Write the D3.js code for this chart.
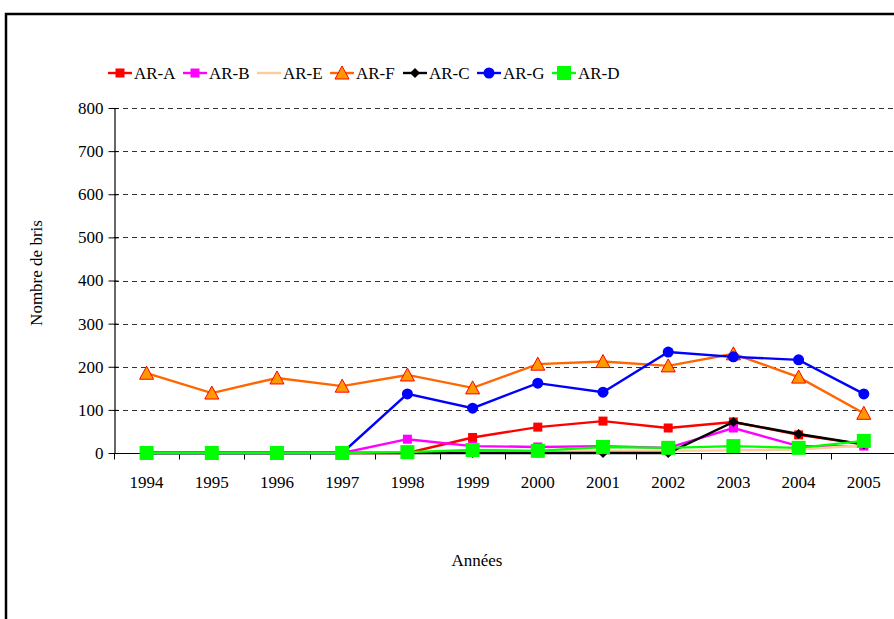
<!DOCTYPE html>
<html>
<head>
<meta charset="utf-8">
<script src="https://cdn.jsdelivr.net/npm/d3@7"></script>
<style>
  body { margin: 0; background: #fff; }
  svg { display: block; }
  svg text { font-family: 'Liberation Serif', 'Times New Roman', Times, serif; }
</style>
</head>
<body>
<svg id="chart" width="894" height="619"></svg>
<script>
const years = ["1994", "1995", "1996", "1997", "1998", "1999", "2000", "2001", "2002", "2003", "2004", "2005"];
const yTicks = [0, 100, 200, 300, 400, 500, 600, 700, 800];

const arA = [0, 0, 0, 0, 0, 36, 60, 74, 58, 72, 42, 20];
const arB = [0, 0, 0, 0, 32, 16, 14, 16, 12, 58, 16, 16];
const arE = [0, 0, 0, 0, 0, 2, 3, 4, 5, 6, 8, 18];
const arF = [185, 139, 174, 155, 181, 151, 206, 212, 202, 230, 176, 92];
const arC = [0, 0, 0, 0, 0, 0, 0, 0, 0, 72, 44, 20];
const arG = [0, 0, 0, 0, 137, 104, 162, 141, 234, 223, 216, 137];
const arD = [0, 0, 0, 0, 2, 7, 5, 14, 12, 16, 12, 28];

// series in Excel order (drawing and legend)
const series = [
  { name: "AR-A", values: arA, line: "#ff0000", marker: "square", size: 9, fill: "#ff0000", stroke: "#ff0000" },
  { name: "AR-B", values: arB, line: "#ff00ff", marker: "square", size: 9, fill: "#ff00ff", stroke: "#ff00ff" },
  { name: "AR-E", values: arE, line: "#ffcc99", marker: null },
  { name: "AR-F", values: arF, line: "#ff6600", marker: "triangle", size: 12, fill: "#ff9900", stroke: "#ff0000" },
  { name: "AR-C", values: arC, line: "#000000", marker: "diamond", size: 10, fill: "#000000", stroke: "#000000" },
  { name: "AR-G", values: arG, line: "#0000ff", marker: "circle", size: 11, fill: "#0000ff", stroke: "#0000ff" },
  { name: "AR-D", values: arD, line: "#00ff00", marker: "square", size: 14, fill: "#00ff00", stroke: "#00ff00" }
];

const svg = d3.select("#chart");
const plotLeft = 114, plotTop = 108, plotBottom = 453;
const fs = 17;

const x = d3.scaleBand().domain(years).range([plotLeft, plotLeft + 12 * 65.2]).padding(0);
const y = d3.scaleLinear().domain([0, 800]).range([plotBottom, plotTop]);

// outer frame
svg.append("rect")
  .attr("x", 6).attr("y", 14)
  .attr("width", 1000).attr("height", 1000)
  .attr("fill", "none").attr("stroke", "#000").attr("stroke-width", 2.5);

// dashed gridlines
svg.append("g")
  .selectAll("line")
  .data(yTicks.filter(d => d > 0))
  .join("line")
  .attr("x1", plotLeft).attr("x2", 894)
  .attr("y1", d => Math.round(y(d)) + 0.5).attr("y2", d => Math.round(y(d)) + 0.5)
  .attr("stroke", "#333").attr("stroke-width", 1)
  .attr("stroke-dasharray", "5,4");

// y axis (cross tick marks)
const yAxis = svg.append("g")
  .attr("transform", `translate(${plotLeft + 0.5},0)`)
  .call(d3.axisLeft(y).tickValues(yTicks).tickSize(5).tickSizeOuter(0));
yAxis.attr("font-family", null);
yAxis.select(".domain").attr("stroke", "#000").attr("stroke-width", 1.2);
yAxis.selectAll(".tick line").attr("stroke", "#000").attr("x1", 4).attr("x2", -6);
yAxis.selectAll("text")
  .attr("font-size", fs).attr("fill", "#000")
  .attr("x", -11);

// x axis: labels centered in bands, ticks at band boundaries
const xAxis = svg.append("g")
  .attr("transform", `translate(0,${plotBottom + 0.5})`)
  .call(d3.axisBottom(x).tickSize(0).tickSizeOuter(0));
xAxis.attr("font-family", null);
xAxis.select(".domain").attr("stroke", "#000").attr("stroke-width", 1.2)
  .attr("d", `M${plotLeft},0H894`);
xAxis.selectAll("text")
  .attr("font-size", fs).attr("fill", "#000")
  .attr("y", 22);
xAxis.selectAll(".bound")
  .data(years)
  .join("line")
  .attr("class", "bound")
  .attr("x1", d => Math.round(x(d)) + 0.5).attr("x2", d => Math.round(x(d)) + 0.5)
  .attr("y1", 0).attr("y2", 6)
  .attr("stroke", "#000");

// axis titles
svg.append("text")
  .attr("transform", "translate(42,273) rotate(-90)")
  .attr("text-anchor", "middle")
  .attr("font-size", fs)
  .text("Nombre de bris");
svg.append("text")
  .attr("x", 477).attr("y", 566)
  .attr("text-anchor", "middle")
  .attr("font-size", fs)
  .text("Années");

const cx = d => x(d) + x.bandwidth() / 2;

function drawMarker(g, s, px, py) {
  const h = s.size / 2;
  if (s.marker === "square") {
    g.append("rect")
      .attr("x", px - h).attr("y", py - h)
      .attr("width", s.size).attr("height", s.size)
      .attr("fill", s.fill);
  } else if (s.marker === "circle") {
    g.append("circle")
      .attr("cx", px).attr("cy", py).attr("r", h)
      .attr("fill", s.fill);
  } else if (s.marker === "diamond") {
    g.append("path")
      .attr("d", `M${px},${py - h}L${px + h},${py}L${px},${py + h}L${px - h},${py}Z`)
      .attr("fill", s.fill);
  } else if (s.marker === "triangle") {
    g.append("path")
      .attr("d", `M${px},${py - h - 1}L${px + h + 1},${py + h}L${px - h - 1},${py + h}Z`)
      .attr("fill", s.fill).attr("stroke", s.stroke).attr("stroke-width", 1);
  }
}

// series lines and markers
const line = d3.line().x((d, i) => cx(years[i])).y(d => y(d));
series.forEach(s => {
  const g = svg.append("g");
  g.append("path")
    .datum(s.values)
    .attr("d", line)
    .attr("fill", "none")
    .attr("stroke", s.line)
    .attr("stroke-width", 2.4);
  if (s.marker) {
    s.values.forEach((v, i) => drawMarker(g, s, cx(years[i]), y(v)));
  }
});

// legend
const legendX = [108, 183, 257, 330, 403, 477, 552];
const ly = 73;
series.forEach((s, i) => {
  const g = svg.append("g");
  const lx = legendX[i];
  g.append("line")
    .attr("x1", lx).attr("x2", lx + 24)
    .attr("y1", ly).attr("y2", ly)
    .attr("stroke", s.line).attr("stroke-width", 2.4);
  if (s.marker) drawMarker(g, s, lx + 12, ly);
  g.append("text")
    .attr("x", lx + 26).attr("y", ly + 6)
    .attr("font-size", fs)
    .text(s.name);
});
</script>
</body>
</html>
